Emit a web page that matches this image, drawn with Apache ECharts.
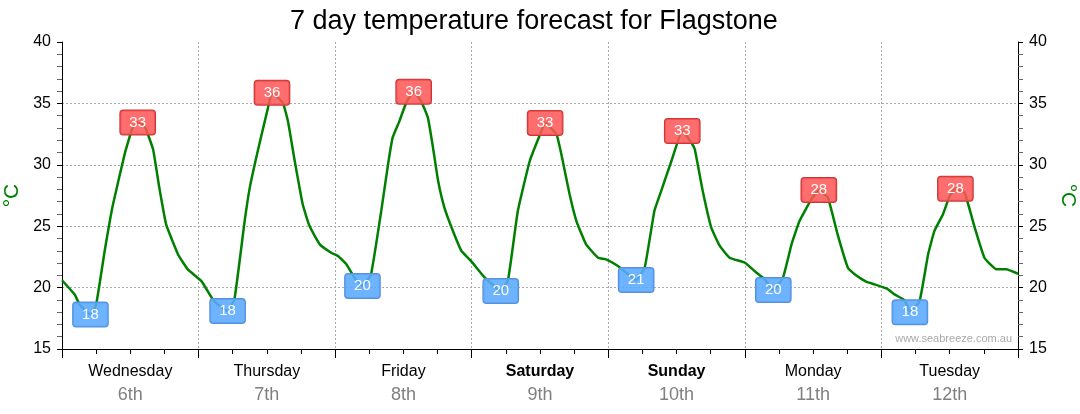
<!DOCTYPE html>
<html>
<head>
<meta charset="utf-8">
<script src="https://cdn.jsdelivr.net/npm/echarts@6/dist/echarts.min.js"></script>
<style>
html,body{margin:0;padding:0;background:#fff;}
#chart{width:1080px;height:414px;}
</style>
</head>
<body>
<div id="chart"></div>
<script>
// Day labels
var dayNames = ['Wednesday', 'Thursday', 'Friday', 'Saturday', 'Sunday', 'Monday', 'Tuesday'];
var dayDates = ['6th', '7th', '8th', '9th', '10th', '11th', '12th'];
var weekendDays = ['Saturday', 'Sunday'];

// Temperature trace: hours since start of Wednesday and temperature (°C)
var hours = [0, 2.2, 3.1, 5.0, 6.0, 7.5, 8.9, 11.0, 12.4, 13.3, 14.5, 16.0, 17.1, 18.3, 20.4, 22.1, 24.5, 26.5,
  27.4, 29.1, 30.3, 32.1, 33.0, 34.4, 36.2, 36.9, 38.8, 39.7, 40.9, 42.3, 43.5, 45.3, 47.3, 48.5, 50.0, 51.4, 52.8, 54.3,
  56.1, 57.3, 58.1, 59.3, 60.5, 61.8, 63.1, 64.3, 65.2, 66.1, 67.2, 68.7, 70.2, 71.9, 74.3, 77.1, 78.4, 80.1, 82.2, 83.9,
  84.9, 86.9, 88.0, 89.2, 90.4, 92.1, 94.2, 95.6, 97.7, 100.9, 102.4, 104.1, 105.3, 107.1, 109.0, 110.6, 111.2, 112.6,
  114.1, 115.6, 117.3, 120.0, 121.7, 123.5, 125.0, 126.7, 128.2, 129.6, 131.7, 133.0, 134.6, 136.3, 138.1,
  139.3, 141.3, 142.8, 144.9, 146.3, 148.1, 149.0, 150.7, 152.2, 153.3, 154.8, 156.0, 157.0, 158.6, 160.4, 162.1, 164.2, 165.9, 168];
var temps = [20.6, 19.45, 18.63, 17.8, 18.63, 22.98, 26.64, 30.85, 33.02, 33.45, 33.16, 31.26, 28.14, 25.15, 22.7, 21.49, 20.53, 19.04,
  18.63, 18.1, 19.04, 25.42, 28.14, 31.12, 34.65, 35.87, 35.06, 33.56, 30.31, 26.78, 25.01, 23.52, 22.84, 22.57, 21.89, 20.81, 20.13, 21.08,
  26.24, 30.04, 32.21, 33.56, 35.06, 35.95, 35.19, 33.84, 31.39, 28.68, 26.51, 24.61, 22.98, 22.16, 20.81, 19.72, 20.67, 26.24, 30.31, 32.34,
  33.4, 32.48, 30.31, 27.6, 25.42, 23.52, 22.43, 22.3, 21.76, 20.62, 21.62, 26.24, 27.87, 30.31, 32.75, 31.8, 31.26, 27.87,
  24.88, 23.39, 22.43, 22.03, 21.35, 20.67, 19.8, 20.81, 23.52, 25.42, 27.2, 27.95, 27.32, 24.33, 21.62,
  21.08, 20.48, 20.26, 19.93, 19.45, 18.96, 18.0, 18.9, 22.7, 24.6, 25.96, 27.46, 28.05, 27.73, 24.88, 22.43, 21.49, 21.49, 21.13];

// Daily max / min labels
var highHours = [13.3, 36.9, 61.8, 84.9, 109.0, 133.0, 157.0];
var highLabels = [33, 36, 36, 33, 33, 28, 28];
var lowHours = [5.0, 29.1, 52.8, 77.1, 100.9, 125.0, 149.0];
var lowLabels = [18, 18, 20, 20, 21, 20, 18];

// Y axis ticks
var yMin = 15, yMax = 40, yStep = 5;

function tempAt(h) {
  var best = 0, bd = Infinity;
  for (var i = 0; i < hours.length; i++) {
    var d = Math.abs(hours[i] - h);
    if (d < bd) { bd = d; best = i; }
  }
  return temps[best];
}

var lineData = hours.map(function (h, i) { return [h, temps[i]]; });
var highData = highHours.map(function (h, i) { return [h, tempAt(h), highLabels[i]]; });
var lowData = lowHours.map(function (h, i) { return [h, tempAt(h), lowLabels[i]]; });

function boxLabel(bg, border) {
  return {
    show: true,
    position: 'inside',
    formatter: function (p) { return String(p.value[2]); },
    color: '#ffffff',
    opacity: 1,
    textBorderWidth: 0,
    textShadowBlur: 0,
    fontSize: 15,
    fontFamily: 'Liberation Sans',
    backgroundColor: bg,
    borderColor: border,
    borderWidth: 1,
    borderRadius: 3,
    padding: [4, 9, 3, 9],
    lineHeight: 17
  };
}

var yAxisCommon = {
  type: 'value',
  min: yMin,
  max: yMax,
  interval: yStep,
  name: '°C',
  nameLocation: 'middle',
  nameTextStyle: { color: '#008000', fontSize: 21, fontFamily: 'Liberation Sans' },
  axisLine: { show: true, lineStyle: { color: '#000', width: 1 } },
  axisTick: { show: true, length: 5, lineStyle: { color: '#000' } },
  minorTick: { show: true, splitNumber: 5, length: 5, lineStyle: { color: '#666' } },
  axisLabel: { color: '#000', fontSize: 16, fontFamily: 'Liberation Sans', margin: 11 },
  splitLine: { show: false }
};

var option = {
  animation: false,
  backgroundColor: '#fff',
  textStyle: { fontFamily: 'Liberation Sans' },
  title: {
    text: '7 day temperature forecast for Flagstone',
    left: 285,
    top: 3,
    textStyle: { fontSize: 27, fontWeight: 'normal', color: '#000', fontFamily: 'Liberation Sans' }
  },
  grid: { left: 62, right: 62, top: 42, bottom: 65, containLabel: false, outerBoundsMode: 'none' },
  xAxis: [{
    type: 'value',
    min: 0,
    max: 168,
    interval: 24,
    position: 'bottom',
    axisLine: { show: true, onZero: false, lineStyle: { color: '#000', width: 1 } },
    axisTick: { show: true, length: 9, lineStyle: { color: '#000' } },
    minorTick: { show: true, splitNumber: 4, length: 5, lineStyle: { color: '#000' } },
    axisLabel: { show: false },
    splitLine: { show: true, lineStyle: { color: '#aaa', type: [2, 2], width: 1 } }
  }, {
    type: 'category',
    position: 'bottom',
    data: dayNames,
    boundaryGap: true,
    axisLine: { show: false },
    axisTick: { show: false },
    splitLine: { show: false },
    axisLabel: {
      margin: 12,
      interval: 0,
      formatter: function (v, i) {
        var key = weekendDays.indexOf(v) >= 0 ? 'wb' : 'w';
        return '{' + key + '|' + v + '}\n{d|' + dayDates[i] + '}';
      },
      rich: {
        w: { fontSize: 16, color: '#000', lineHeight: 22, fontFamily: 'Liberation Sans' },
        wb: { fontSize: 16, color: '#000', fontWeight: 'bold', lineHeight: 22, fontFamily: 'Liberation Sans' },
        d: { fontSize: 18, color: '#808080', lineHeight: 24, fontFamily: 'Liberation Sans' }
      }
    }
  }],
  yAxis: [
    Object.assign({}, yAxisCommon, {
      position: 'left',
      nameGap: 38,
      nameRotate: 90,
      splitLine: { show: true, showMaxLine: false, showMinLine: false, lineStyle: { color: '#aaa', type: [2, 2], width: 1 } }
    }),
    Object.assign({}, yAxisCommon, {
      position: 'right',
      nameGap: 38,
      nameRotate: -90
    })
  ],
  graphic: [{
    type: 'text',
    right: 68,
    top: 333,
    style: { text: 'www.seabreeze.com.au', fill: '#aaa', fontSize: 11, fontFamily: 'Liberation Sans' },
    z: 10
  }],
  series: [{
    type: 'line',
    data: lineData,
    xAxisIndex: 0,
    yAxisIndex: 0,
    showSymbol: false,
    smooth: 0.12,
    lineStyle: { color: '#008000', width: 2.5 },
    z: 2
  }, {
    type: 'scatter',
    data: highData,
    xAxisIndex: 0,
    yAxisIndex: 0,
    symbolSize: 1,
    itemStyle: { color: '#ff5555', opacity: 1 },
    label: boxLabel('rgba(255,85,85,0.85)', '#c23a3a'),
    emphasis: { disabled: true },
    z: 5
  }, {
    type: 'scatter',
    data: lowData,
    xAxisIndex: 0,
    yAxisIndex: 0,
    symbolSize: 1,
    itemStyle: { color: '#5aa8ff', opacity: 1 },
    label: boxLabel('rgba(90,168,255,0.88)', '#5a8fd6'),
    emphasis: { disabled: true },
    z: 5
  }]
};

var chart = echarts.init(document.getElementById('chart'), null, { renderer: 'canvas' });
chart.setOption(option);
</script>
</body>
</html>
